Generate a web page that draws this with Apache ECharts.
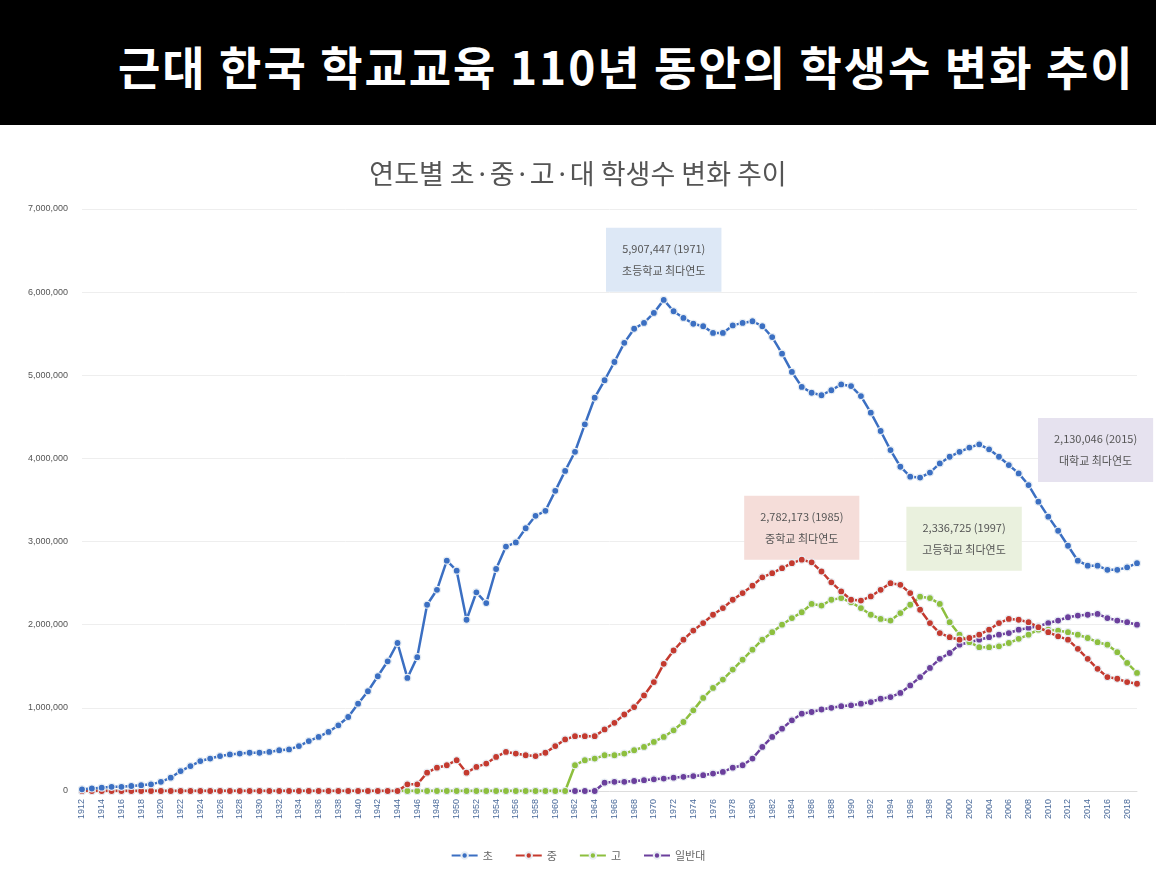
<!DOCTYPE html>
<html>
<head>
<meta charset="utf-8">
<script src="https://cdn.jsdelivr.net/npm/echarts@6/dist/echarts.min.js"></script>
<style>
  body { margin: 0; background: #fff; }
  #banner { position: absolute; left: 0; top: 0; width: 1156px; height: 125px; background: #000; color: #fff;
    font-family: "Noto Sans CJK KR", sans-serif; font-weight: bold; font-size: 46px; line-height: 130px; padding-left: 118px; box-sizing: border-box; letter-spacing: 2px; white-space: nowrap; }
  #chart { position: absolute; left: 0; top: 125px; width: 1156px; height: 755px; }
</style>
</head>
<body>
<div id="banner">근대 한국 학교교육 110년 동안의 학생수 변화 추이</div>
<div id="chart"></div>
<script>
const years = [];
for (let y = 1912; y <= 2019; y++) years.push(String(y));

// values in millions
const elementary = [
  0.02, 0.03, 0.04, 0.05, 0.05, 0.06, 0.07, 0.08, 0.11, 0.16, 0.24, 0.30, 0.36, 0.39, 0.42, 0.44, 0.45, 0.46, 0.46, 0.47,
  0.49, 0.50, 0.54, 0.60, 0.65, 0.71, 0.79, 0.89, 1.05, 1.20, 1.38, 1.56, 1.78, 1.36, 1.61, 2.24, 2.42, 2.77, 2.65, 2.06,
  2.39, 2.26, 2.67, 2.94, 2.99, 3.16, 3.31, 3.37, 3.61, 3.85, 4.08, 4.41, 4.73, 4.94, 5.16, 5.39, 5.56, 5.63, 5.75, 5.907,
  5.77, 5.69, 5.62, 5.59, 5.51, 5.51, 5.60, 5.63, 5.65, 5.59, 5.46, 5.26, 5.04, 4.86, 4.79, 4.76, 4.82, 4.89, 4.87, 4.75,
  4.55, 4.33, 4.10, 3.90, 3.78, 3.77, 3.83, 3.94, 4.02, 4.08, 4.13, 4.17, 4.11, 4.02, 3.92, 3.82, 3.68, 3.48, 3.30, 3.13,
  2.95, 2.77, 2.71, 2.71, 2.66, 2.66, 2.69, 2.74
];
const middle = [
  0, 0, 0, 0, 0, 0, 0, 0, 0, 0, 0, 0, 0, 0, 0, 0, 0, 0, 0, 0,
  0, 0, 0, 0, 0, 0, 0, 0, 0, 0, 0, 0, 0, 0.08, 0.08, 0.22, 0.28, 0.31, 0.37, 0.22,
  0.29, 0.33, 0.41, 0.47, 0.45, 0.43, 0.42, 0.46, 0.54, 0.62, 0.66, 0.66, 0.66, 0.74, 0.82, 0.92, 1.01, 1.15, 1.31, 1.53,
  1.69, 1.82, 1.93, 2.02, 2.12, 2.20, 2.30, 2.38, 2.47, 2.57, 2.62, 2.68, 2.74, 2.782, 2.75, 2.64, 2.51, 2.40, 2.30, 2.29,
  2.34, 2.42, 2.50, 2.48, 2.38, 2.18, 2.02, 1.90, 1.85, 1.82, 1.84, 1.88, 1.94, 2.02, 2.07, 2.06, 2.03, 1.97, 1.91, 1.86,
  1.82, 1.71, 1.59, 1.47, 1.37, 1.35, 1.31, 1.29
];
const high = [
  0, 0, 0, 0, 0, 0, 0, 0, 0, 0, 0, 0, 0, 0, 0, 0, 0, 0, 0, 0,
  0, 0, 0, 0, 0, 0, 0, 0, 0, 0, 0, 0, 0, 0, 0, 0, 0, 0, 0, 0,
  0, 0, 0, 0, 0, 0, 0, 0, 0, 0, 0.31, 0.37, 0.39, 0.43, 0.43, 0.45, 0.49, 0.53, 0.59, 0.65,
  0.73, 0.83, 0.97, 1.12, 1.24, 1.34, 1.46, 1.58, 1.70, 1.82, 1.91, 2.00, 2.08, 2.15, 2.25, 2.23, 2.30, 2.32, 2.27, 2.20,
  2.12, 2.07, 2.05, 2.14, 2.24, 2.337, 2.32, 2.25, 2.03, 1.88, 1.79, 1.73, 1.73, 1.74, 1.78, 1.83, 1.88, 1.94, 1.94, 1.93,
  1.91, 1.88, 1.84, 1.79, 1.76, 1.67, 1.54, 1.42
];
const university = [
  0, 0, 0, 0, 0, 0, 0, 0, 0, 0, 0, 0, 0, 0, 0, 0, 0, 0, 0, 0,
  0, 0, 0, 0, 0, 0, 0, 0, 0, 0, 0, 0, 0, 0, 0, 0, 0, 0, 0, 0,
  0, 0, 0, 0, 0, 0, 0, 0, 0, 0, 0, 0, 0, 0.10, 0.11, 0.11, 0.12, 0.13, 0.14, 0.15,
  0.16, 0.17, 0.18, 0.19, 0.21, 0.23, 0.28, 0.31, 0.39, 0.53, 0.65, 0.75, 0.85, 0.93, 0.95, 0.98, 1.00, 1.02, 1.03, 1.05,
  1.07, 1.11, 1.13, 1.18, 1.27, 1.37, 1.48, 1.59, 1.66, 1.76, 1.79, 1.82, 1.85, 1.88, 1.90, 1.94, 1.96, 1.98, 2.02, 2.05,
  2.09, 2.11, 2.12, 2.13, 2.08, 2.05, 2.03, 2.00
];
const seriesNames = ['초', '중', '고', '일반대'];
const colors = ['#3b6fc2', '#c43a2f', '#8dbf3e', '#6b3f9c'];
const peaks = [
  { year: '1971', value: 5907447, text: '5,907,447 (1971)\n초등학교 최다연도', bg: '#dde8f6', offset: [0, -40] },
  { year: '1985', value: 2782173, text: '2,782,173 (1985)\n중학교 최다연도', bg: '#f5ddd9', offset: [0, -32] },
  { year: '1997', value: 2336725, text: '2,336,725 (1997)\n고등학교 최다연도', bg: '#eaf1de', offset: [44, -58] },
  { year: '2015', value: 2130046, text: '2,130,046 (2015)\n대학교 최다연도', bg: '#e6e2ef', offset: [-2, -164] }
];

const dataSets = [elementary, middle, high, university];
const chart = echarts.init(document.getElementById('chart'));

chart.setOption({
  title: {
    text: '연도별 초·중·고·대 학생수 변화 추이',
    left: 'center', top: 30,
    textStyle: { fontFamily: 'Noto Sans CJK KR', fontSize: 27, fontWeight: 'normal', color: '#555' }
  },
  legend: {
    bottom: 14, itemWidth: 26, itemHeight: 8, itemGap: 22,
    textStyle: { fontFamily: 'Noto Sans CJK KR', fontSize: 11, color: '#666' }
  },
  grid: { left: 82, right: 19, top: 84, bottom: 89 },
  xAxis: {
    type: 'category', data: years, boundaryGap: false,
    axisLine: { lineStyle: { color: '#ddd' } },
    axisTick: { show: false },
    axisLabel: { interval: 1, rotate: 90, fontSize: 9, color: '#4a6a9a', margin: 8 }
  },
  yAxis: {
    type: 'value', min: 0, max: 7000000, interval: 1000000,
    axisLine: { show: false }, axisTick: { show: false },
    splitLine: { lineStyle: { color: '#eee' } },
    axisLabel: { fontSize: 9, color: '#555', formatter: v => v.toLocaleString('en-US'), margin: 14 }
  },
  series: dataSets.map((arr, i) => ({
    name: seriesNames[i],
    type: 'line',
    data: arr.map(v => Math.round(v * 1000000)),
    z: 10 - i,
    color: colors[i],
    lineStyle: { width: 2.5, color: colors[i] },
    symbol: 'circle', symbolSize: 7, showAllSymbol: true,
    itemStyle: { color: colors[i], borderColor: '#e8eef4', borderWidth: 1.2 },
    markPoint: {
      symbol: 'circle', symbolSize: 1,
      itemStyle: { color: 'transparent' },
      data: [{
        coord: [peaks[i].year, peaks[i].value],
        label: {
          show: true, formatter: peaks[i].text, offset: peaks[i].offset,
          backgroundColor: peaks[i].bg, padding: [10, 16], lineHeight: 22,
          fontFamily: 'Noto Sans CJK KR', fontSize: 11, color: '#555', align: 'center'
        }
      }]
    }
  }))
});
</script>
</body>
</html>
